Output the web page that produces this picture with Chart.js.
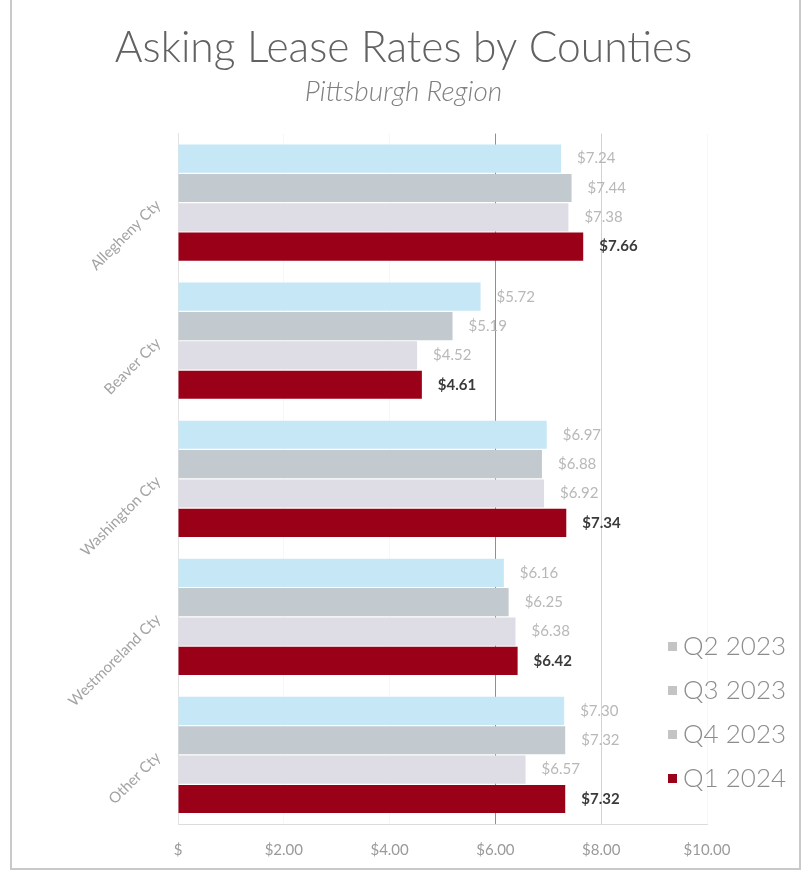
<!DOCTYPE html>
<html>
<head>
<meta charset="utf-8">
<script src="https://cdn.jsdelivr.net/npm/chart.js@4"></script>
<style>
  body { margin: 0; background: #fff; }
  #wrap { position: relative; width: 807px; height: 876px; }
  #frame { position: absolute; left: 10px; top: -2px; width: 787px; height: 868px; border: 2px solid #c9c9c9; pointer-events: none; }
  #legend { position: absolute; left: 668px; top: 623px; font-family: Lato, sans-serif; font-size: 26px; font-weight: 300; color: #8c8c8c; }
  #legend div { height: 44px; line-height: 44px; white-space: nowrap; }
  #legend span { display: inline-block; width: 9px; height: 9px; margin-right: 6px; vertical-align: middle; position: relative; top: -2px; }
</style>
</head>
<body>
<div id="wrap">
  <canvas id="leaseChart" width="807" height="876"></canvas>
  <div id="frame"></div>
  <div id="legend"></div>
</div>
<script>
const counties = ['Allegheny Cty', 'Beaver Cty', 'Washington Cty', 'Westmoreland Cty', 'Other Cty'];
const quarters = ['Q2 2023', 'Q3 2023', 'Q4 2023', 'Q1 2024'];
const q2_2023 = [7.24, 5.72, 6.97, 6.16, 7.30];
const q3_2023 = [7.44, 5.19, 6.88, 6.25, 7.32];
const q4_2023 = [7.38, 4.52, 6.92, 6.38, 6.57];
const q1_2024 = [7.66, 4.61, 7.34, 6.42, 7.32];
const xTickLabels = ['$', '$2.00', '$4.00', '$6.00', '$8.00', '$10.00'];
const colors = ['#c6e7f6', '#c3cacf', '#dedde6', '#9b0019'];

const series = [q2_2023, q3_2023, q4_2023, q1_2024];

// value labels at the end of each bar
const barLabels = {
    id: 'barLabels',
    afterDatasetsDraw(chart) {
        const ctx = chart.ctx;
        ctx.save();
        ctx.textBaseline = 'middle';
        ctx.textAlign = 'left';
        chart.data.datasets.forEach((ds, i) => {
            const last = i === chart.data.datasets.length - 1;
            ctx.font = (last ? 'bold ' : '') + '15px Lato, sans-serif';
            ctx.fillStyle = last ? '#3a3a3a' : '#b8b8b8';
            chart.getDatasetMeta(i).data.forEach((bar, j) => {
                ctx.fillText('$' + ds.data[j].toFixed(2), bar.x + 16, bar.y);
            });
        });
        ctx.restore();
    }
};

function renderChart() {
    const ctx = document.getElementById('leaseChart').getContext('2d');
    new Chart(ctx, {
        type: 'bar',
        data: {
            labels: counties,
            datasets: quarters.map((q, i) => ({
                label: q,
                data: series[i],
                backgroundColor: colors[i],
                categoryPercentage: 0.85,
                barPercentage: 0.96
            }))
        },
        options: {
            indexAxis: 'y',
            responsive: false,
            animation: false,
            layout: { padding: { top: 0, left: 10, right: 10, bottom: 0 } },
            plugins: {
                legend: { display: false },
                tooltip: { enabled: false },
                title: {
                    display: true,
                    text: 'Asking Lease Rates by Counties',
                    color: '#626262',
                    font: { family: 'Lato', size: 42.5, weight: 300 },
                    padding: { top: 23, bottom: 0 }
                },
                subtitle: {
                    display: true,
                    text: 'Pittsburgh Region',
                    color: '#808080',
                    font: { family: 'Lato', size: 28, style: 'italic', weight: 300 },
                    padding: { top: 1, bottom: 25 }
                }
            },
            scales: {
                x: {
                    min: 0,
                    max: 10,
                    ticks: {
                        stepSize: 2,
                        padding: 17,
                        color: '#9a9a9a',
                        font: { family: 'Lato', size: 15 },
                        callback: (v, i) => xTickLabels[i]
                    },
                    grid: {
                        drawTicks: false,
                        color: c => c.tick && c.tick.value === 6 ? '#8f8f8f' : (c.tick && c.tick.value === 8 ? '#d2d2d2' : 'rgba(0,0,0,0.03)')
                    },
                    border: { color: '#dcdcdc' }
                },
                y: {
                    ticks: {
                        minRotation: 45,
                        maxRotation: 45,
                        padding: 20,
                        color: '#a3a3a3',
                        font: { family: 'Lato', size: 15 }
                    },
                    grid: { display: false, drawTicks: false },
                    border: { color: '#e3e3e3' },
                    afterFit: s => { s.width = 168; }
                },
                yRight: {
                    type: 'category',
                    position: 'right',
                    ticks: { display: false },
                    grid: { display: false, drawTicks: false },
                    border: { display: false },
                    afterFit: s => { s.width = 90; }
                }
            }
        },
        plugins: [barLabels]
    });

    const legend = document.getElementById('legend');
    quarters.forEach((q, i) => {
        const row = document.createElement('div');
        row.innerHTML = '<span style="background:' + (i === 3 ? colors[i] : '#c4c4c4') + '"></span>' + q;
        legend.appendChild(row);
    });
}

window.onload = renderChart;
</script>
</body>
</html>
